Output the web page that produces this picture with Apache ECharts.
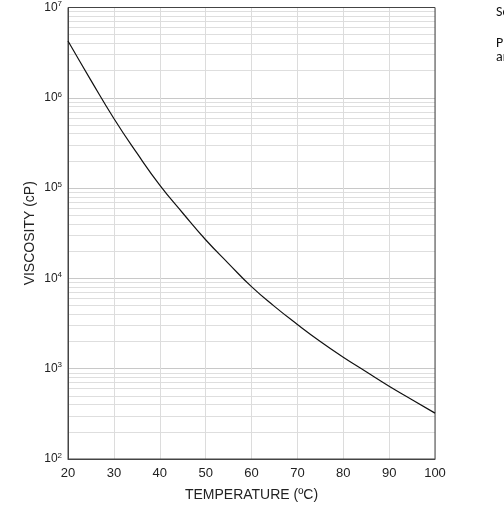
<!DOCTYPE html>
<html>
<head>
<meta charset="utf-8">
<script src="https://cdn.jsdelivr.net/npm/echarts@6/dist/echarts.min.js"></script>
<style>
  html, body { margin: 0; padding: 0; background: #fff; }
  #chart { width: 504px; height: 507px; }
</style>
</head>
<body>
<div id="chart"></div>
<script>
// temperature (C) vs viscosity (cP)
const temps = [20, 25, 30, 35, 40, 45, 50, 55, 60, 65, 70, 75, 80, 85, 90, 95, 100];
const viscosity = [4.25e6, 1.56e6, 5.9e5, 2.45e5, 1.08e5, 5.3e4, 2.68e4, 1.46e4, 8.1e3, 4.9e3, 3.09e3, 2.0e3, 1.34e3, 925, 640, 454, 322];

// log minor grid lines (2..9 in each decade)
const minorValues = [];
[100, 1000, 10000, 100000, 1000000].forEach(function (d) {
  for (let k = 2; k <= 9; k++) minorValues.push(k * d);
});

const sideNotes = ['Sc', 'Pl', 'ar'];

const myChart = echarts.init(document.getElementById('chart'));

const option = {
  animation: false,
  textStyle: { fontFamily: 'Liberation Sans, Arial, sans-serif' },
  grid: {
    left: 68, right: 69, top: 7, bottom: 47,
    show: true,
    borderColor: '#444',
    borderWidth: 1,
    z: 3
  },
  xAxis: {
    type: 'value',
    z: 2,
    min: 20,
    max: 100,
    interval: 10,
    name: 'TEMPERATURE (ºC)',
    nameLocation: 'middle',
    nameGap: 29,
    nameTextStyle: { fontSize: 14, color: '#222' },
    axisLine: { lineStyle: { color: '#444' } },
    axisTick: { show: false },
    axisLabel: { fontSize: 13, color: '#222', margin: 8 },
    splitLine: { lineStyle: { color: '#dcdcdc' } }
  },
  yAxis: {
    type: 'log',
    z: 2,
    logBase: 10,
    min: 100,
    max: 10000000,
    name: 'VISCOSITY (cP)',
    nameLocation: 'middle',
    nameGap: 31,
    nameMoveOverlap: false,
    nameTextStyle: { fontSize: 14, color: '#222' },
    axisLine: { show: true, lineStyle: { color: '#444' } },
    axisTick: { show: false },
    axisLabel: {
      margin: 6,
      formatter: function (v) {
        return '{b|10}{s|' + Math.round(Math.log10(v)) + '}';
      },
      rich: {
        b: { fontSize: 12, color: '#222' },
        s: { fontSize: 8, color: '#222', verticalAlign: 'top', padding: [0, 0, 7, 0] }
      }
    },
    splitLine: { lineStyle: { color: '#c8c8c8' } }
  },
  series: [
    {
      // carries the minor grid lines only, drawn under the curve and frame
      type: 'line',
      data: [],
      silent: true,
      z: 1,
      markLine: {
        z: 1,
        silent: true,
        symbol: 'none',
        label: { show: false },
        animation: false,
        lineStyle: { color: '#dedede', type: 'solid', width: 1 },
        data: minorValues.map(function (v) { return { yAxis: v }; })
      }
    },
    {
      type: 'line',
      data: temps.map(function (t, i) { return [t, viscosity[i]]; }),
      smooth: true,
      showSymbol: false,
      lineStyle: { color: '#111', width: 1.2 },
      z: 5
    }
  ],
  graphic: sideNotes.map(function (t, i) {
    return {
      type: 'text',
      left: 496,
      top: [5, 36, 50][i],
      style: { text: t, fontSize: 14, fill: '#111', fontFamily: 'Carlito, Liberation Sans, sans-serif' }
    };
  })
};

option && myChart.setOption(option);
</script>
</body>
</html>
